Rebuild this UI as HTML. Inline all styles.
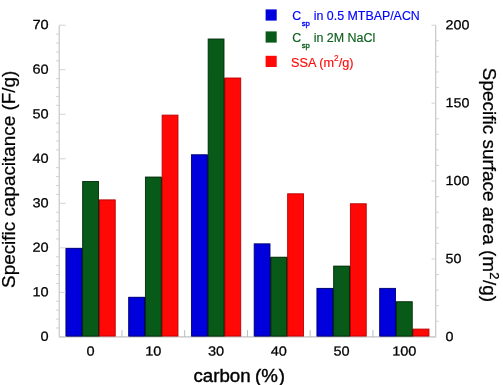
<!DOCTYPE html>
<html><head><meta charset="utf-8"><title>chart</title>
<style>html,body{margin:0;padding:0;background:#fff}svg{display:block;filter:blur(0.35px)}.t,.t text{font-family:"Liberation Sans",Arial,sans-serif}</style></head>
<body>
<svg width="503" height="385" viewBox="0 0 503 385">
<rect width="503" height="385" fill="#fff"/>
<path d="M59.2 25.2V336.9H435.7V25.2" stroke="#c2c2c2" stroke-width="1.1" fill="none"/>
<g stroke-width="0.9">
<rect x="66.48" y="248.44" width="16.73" height="87.86" fill="#000070" stroke="none"/>
<rect x="65.93" y="248.29" width="15.83" height="87.76" fill="#0000dc" stroke="#000070"/>
<rect x="83.21" y="200.04" width="16.73" height="136.26" fill="#032c09" stroke="none"/>
<rect x="82.66" y="181.50" width="15.83" height="154.55" fill="#085a19" stroke="#032c09"/>
<rect x="99.39" y="199.89" width="15.83" height="136.16" fill="#ff0806" stroke="#b80000"/>
<rect x="129.22" y="297.42" width="16.73" height="38.88" fill="#000070" stroke="none"/>
<rect x="128.67" y="297.27" width="15.83" height="38.78" fill="#0000dc" stroke="#000070"/>
<rect x="145.96" y="177.20" width="16.73" height="159.10" fill="#032c09" stroke="none"/>
<rect x="145.41" y="177.05" width="15.83" height="159.00" fill="#085a19" stroke="#032c09"/>
<rect x="162.14" y="115.11" width="15.83" height="220.94" fill="#ff0806" stroke="#b80000"/>
<rect x="191.97" y="154.93" width="16.73" height="181.37" fill="#000070" stroke="none"/>
<rect x="191.42" y="154.78" width="15.83" height="181.27" fill="#0000dc" stroke="#000070"/>
<rect x="208.71" y="78.17" width="16.73" height="258.13" fill="#032c09" stroke="none"/>
<rect x="208.16" y="39.01" width="15.83" height="297.04" fill="#085a19" stroke="#032c09"/>
<rect x="224.89" y="78.02" width="15.83" height="258.03" fill="#ff0806" stroke="#b80000"/>
<rect x="254.72" y="257.35" width="16.73" height="78.95" fill="#000070" stroke="none"/>
<rect x="254.17" y="243.84" width="15.83" height="92.21" fill="#0000dc" stroke="#000070"/>
<rect x="271.46" y="257.35" width="16.73" height="78.95" fill="#032c09" stroke="none"/>
<rect x="270.91" y="257.20" width="15.83" height="78.85" fill="#085a19" stroke="#032c09"/>
<rect x="287.64" y="193.81" width="15.83" height="142.24" fill="#ff0806" stroke="#b80000"/>
<rect x="317.47" y="288.52" width="16.73" height="47.78" fill="#000070" stroke="none"/>
<rect x="316.92" y="288.37" width="15.83" height="47.68" fill="#0000dc" stroke="#000070"/>
<rect x="334.21" y="266.25" width="16.73" height="70.05" fill="#032c09" stroke="none"/>
<rect x="333.66" y="266.10" width="15.83" height="69.95" fill="#085a19" stroke="#032c09"/>
<rect x="350.39" y="203.79" width="15.83" height="132.26" fill="#ff0806" stroke="#b80000"/>
<rect x="380.22" y="301.88" width="16.73" height="34.42" fill="#000070" stroke="none"/>
<rect x="379.67" y="288.37" width="15.83" height="47.68" fill="#0000dc" stroke="#000070"/>
<rect x="396.96" y="329.24" width="16.73" height="7.06" fill="#032c09" stroke="none"/>
<rect x="396.41" y="301.73" width="15.83" height="34.32" fill="#085a19" stroke="#032c09"/>
<rect x="413.14" y="329.09" width="15.83" height="6.96" fill="#ff0806" stroke="#b80000"/>
</g>
<g stroke="#cecece" stroke-width="0.9" fill="none">
<path d="M59.2 336.90h6.4"/>
<path d="M59.2 327.99h-3.2"/>
<path d="M59.2 319.09h-3.2"/>
<path d="M59.2 310.18h-3.2"/>
<path d="M59.2 301.28h-3.2"/>
<path d="M59.2 292.37h6.4"/>
<path d="M59.2 283.47h-3.2"/>
<path d="M59.2 274.56h-3.2"/>
<path d="M59.2 265.65h-3.2"/>
<path d="M59.2 256.75h-3.2"/>
<path d="M59.2 247.84h6.4"/>
<path d="M59.2 238.94h-3.2"/>
<path d="M59.2 230.03h-3.2"/>
<path d="M59.2 221.13h-3.2"/>
<path d="M59.2 212.22h-3.2"/>
<path d="M59.2 203.31h6.4"/>
<path d="M59.2 194.41h-3.2"/>
<path d="M59.2 185.50h-3.2"/>
<path d="M59.2 176.60h-3.2"/>
<path d="M59.2 167.69h-3.2"/>
<path d="M59.2 158.79h6.4"/>
<path d="M59.2 149.88h-3.2"/>
<path d="M59.2 140.97h-3.2"/>
<path d="M59.2 132.07h-3.2"/>
<path d="M59.2 123.16h-3.2"/>
<path d="M59.2 114.26h6.4"/>
<path d="M59.2 105.35h-3.2"/>
<path d="M59.2 96.45h-3.2"/>
<path d="M59.2 87.54h-3.2"/>
<path d="M59.2 78.63h-3.2"/>
<path d="M59.2 69.73h6.4"/>
<path d="M59.2 60.82h-3.2"/>
<path d="M59.2 51.92h-3.2"/>
<path d="M59.2 43.01h-3.2"/>
<path d="M59.2 34.11h-3.2"/>
<path d="M59.2 25.20h6.4"/>
<path d="M435.7 336.90h-4.2"/>
<path d="M435.7 321.31h3.2"/>
<path d="M435.7 305.73h3.2"/>
<path d="M435.7 290.14h3.2"/>
<path d="M435.7 274.56h3.2"/>
<path d="M435.7 258.97h-4.2"/>
<path d="M435.7 243.39h3.2"/>
<path d="M435.7 227.80h3.2"/>
<path d="M435.7 212.22h3.2"/>
<path d="M435.7 196.63h3.2"/>
<path d="M435.7 181.05h-4.2"/>
<path d="M435.7 165.46h3.2"/>
<path d="M435.7 149.88h3.2"/>
<path d="M435.7 134.29h3.2"/>
<path d="M435.7 118.71h3.2"/>
<path d="M435.7 103.12h-4.2"/>
<path d="M435.7 87.54h3.2"/>
<path d="M435.7 71.95h3.2"/>
<path d="M435.7 56.37h3.2"/>
<path d="M435.7 40.78h3.2"/>
<path d="M435.7 25.20h-4.2"/>
<path d="M121.95 336.9v-6.8" stroke="#b4b4b4"/>
<path d="M184.70 336.9v-6.8" stroke="#b4b4b4"/>
<path d="M247.45 336.9v-6.8" stroke="#b4b4b4"/>
<path d="M310.20 336.9v-6.8" stroke="#b4b4b4"/>
<path d="M372.95 336.9v-6.8" stroke="#b4b4b4"/>
</g>
<g class="t" font-size="13.2" fill="#000" stroke="#000" stroke-width="0.26">
<text transform="translate(48.6 340.85) scale(1.1 1) rotate(0.3)" text-anchor="end">0</text>
<text transform="translate(48.6 296.32) scale(1.1 1) rotate(0.3)" text-anchor="end">10</text>
<text transform="translate(48.6 251.79) scale(1.1 1) rotate(0.3)" text-anchor="end">20</text>
<text transform="translate(48.6 207.26) scale(1.1 1) rotate(0.3)" text-anchor="end">30</text>
<text transform="translate(48.6 162.74) scale(1.1 1) rotate(0.3)" text-anchor="end">40</text>
<text transform="translate(48.6 118.21) scale(1.1 1) rotate(0.3)" text-anchor="end">50</text>
<text transform="translate(48.6 73.68) scale(1.1 1) rotate(0.3)" text-anchor="end">60</text>
<text transform="translate(48.6 29.15) scale(1.1 1) rotate(0.3)" text-anchor="end">70</text>
<text transform="translate(445.6 340.90) scale(1.08 1) rotate(0.3)">0</text>
<text transform="translate(445.6 262.97) scale(1.08 1) rotate(0.3)">50</text>
<text transform="translate(445.6 185.05) scale(1.08 1) rotate(0.3)">100</text>
<text transform="translate(445.6 107.12) scale(1.08 1) rotate(0.3)">150</text>
<text transform="translate(445.6 29.20) scale(1.08 1) rotate(0.3)">200</text>
<text transform="translate(90.58 355.6) scale(1.1 1) rotate(0.3)" text-anchor="middle">0</text>
<text transform="translate(153.32 355.6) scale(1.1 1) rotate(0.3)" text-anchor="middle">10</text>
<text transform="translate(216.07 355.6) scale(1.1 1) rotate(0.3)" text-anchor="middle">30</text>
<text transform="translate(278.82 355.6) scale(1.1 1) rotate(0.3)" text-anchor="middle">40</text>
<text transform="translate(341.57 355.6) scale(1.1 1) rotate(0.3)" text-anchor="middle">50</text>
<text transform="translate(404.32 355.6) scale(1.1 1) rotate(0.3)" text-anchor="middle">100</text>
</g>
<g class="t" font-size="18.7" fill="#000" stroke="#000" stroke-width="0.4">
<text x="239.2" y="381.7" text-anchor="middle">carbon<tspan dx="-0.9"> (%</tspan><tspan dx="0.9">)</tspan></text>
<text transform="translate(15.3 179.3) rotate(-90)" text-anchor="middle" font-size="18.9" stroke-width="0.25">Specific capacitance (F/g)</text>
<text transform="translate(482.6 185.0) rotate(90)" text-anchor="middle" font-size="18.95" stroke-width="0.25">Specific surface area (m<tspan font-size="13" dx="0.3" dy="-7">2</tspan><tspan dy="7" dx="0.5">/g)</tspan></text>
</g>
<g class="t" font-size="12.4" stroke-width="0.15">
<rect x="265.6" y="9.4" width="11.1" height="11.2" fill="#0000dc"/>
<rect x="265.6" y="31.4" width="11.1" height="11.2" fill="#085a19"/>
<rect x="265.6" y="55.8" width="11.1" height="11.2" fill="#ff0806"/>
<text x="292.3" y="20.0" fill="#0000ff" stroke="#0000ff">C<tspan font-size="7.8" dx="0.4" dy="6.4" stroke-width="0.35">sp</tspan><tspan dy="-6.4" dx="0.4"> in 0.5 MTBAP/ACN</tspan></text>
<text x="292.3" y="41.8" fill="#0d601d" stroke="#0d601d" font-size="12.45">C<tspan font-size="7.8" dx="0.4" dy="6.4" stroke-width="0.35">sp</tspan><tspan dy="-6.4" dx="0.3"> in 2M NaCl</tspan></text>
<text x="291" y="66.5" fill="#ff0a0a" stroke="#ff0a0a" font-size="12.7">SSA (m<tspan font-size="8.3" dy="-5.5">2</tspan><tspan dy="5.5">/g)</tspan></text>
</g>
</svg>
</body></html>
